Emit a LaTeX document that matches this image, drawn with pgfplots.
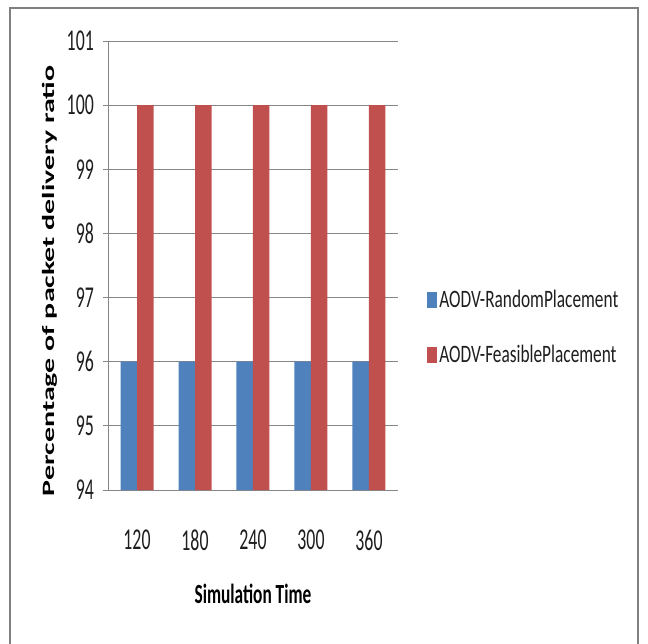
\documentclass[border=0pt]{standalone}
\usepackage{pgfplots}
\pgfplotsset{compat=1.18}
\usepackage{graphicx}
\usepackage{fontspec}
\setmainfont{Carlito}
\definecolor{barblue}{RGB}{79,129,189}
\definecolor{barred}{RGB}{192,80,77}
\definecolor{gridgray}{RGB}{134,134,134}
\definecolor{framegray}{RGB}{128,128,128}
\definecolor{txt}{RGB}{30,30,30}
\newcommand\sq[1]{\scalebox{1}[1.7]{#1}}
\begin{document}
\begin{tikzpicture}
\useasboundingbox (0pt,0pt) rectangle (648pt,643pt);
\draw[framegray, line width=1.8pt] (10pt,-10pt) -- (10pt,635pt) -- (638pt,635pt) -- (638pt,-10pt);
\begin{axis}[
  at={(108pt,153pt)}, anchor=south west,
  scale only axis, width=290pt, height=449pt,
  ybar=0pt, bar width=16.5pt,
  xmin=-0.5, xmax=4.5, ymin=94, ymax=101,
  xtick=data,
  xticklabels={\sq{120},\sq{180},\sq{240},\sq{300},\sq{360}},
  ytick={94,95,96,97,98,99,100,101},
  yticklabels={\sq{94},\sq{95},\sq{96},\sq{97},\sq{98},\sq{99},\sq{100},\sq{101}},
  axis x line*=bottom, axis y line*=left,
  axis line style={gridgray, line width=0.9pt, -},
  ymajorgrids, grid style={gridgray, line width=0.9pt},
  xtick style={draw=none},
  ytick style={gridgray, line width=0.9pt},
  ytick align=outside, major tick length=5pt,
  tick label style={font=\fontsize{17.8}{20}\selectfont, text=txt, inner sep=0pt},
  xticklabel style={anchor=center, yshift=-45pt},
  yticklabel style={anchor=east, xshift=-9pt},
  xlabel={\scalebox{1}[1.6]{\bfseries Simulation Time}},
  xlabel style={font=\fontsize{17.3}{20}\selectfont, text=black, at={(axis description cs:0.5,-0.2316)}, anchor=center, inner sep=0pt},
  ylabel={\scalebox{1.73}[1]{\bfseries Percentage of packet delivery ratio}},
  ylabel style={font=\fontsize{17.3}{20}\selectfont, text=black, at={(axis description cs:-0.2,0.466)}, anchor=center, rotate=0, inner sep=0pt},
  legend style={at={(1.09,0.362)}, anchor=west, draw=none, fill=none,
    font=\fontsize{17.3}{20}\selectfont, text=txt,
    nodes={inner sep=0pt, text height=8pt, text depth=8pt, anchor=west},
    row sep=39pt, column sep=2pt},
  legend cell align=left,
  legend image code/.code={\fill[#1,draw=none] (0pt,-8pt) rectangle (10pt,8pt);},
]
\addplot[fill=barblue, draw=none] coordinates {(0,96) (1,96) (2,96) (3,96) (4,96)};
\addplot[fill=barred, draw=none] coordinates {(0,100) (1,100) (2,100) (3,100) (4,100)};
\legend{\raisebox{-8pt}{\scalebox{1}[1.45]{AODV-RandomPlacement}},\raisebox{-8pt}{\scalebox{1}[1.45]{AODV-FeasiblePlacement}}}
\end{axis}
\end{tikzpicture}
\end{document}
